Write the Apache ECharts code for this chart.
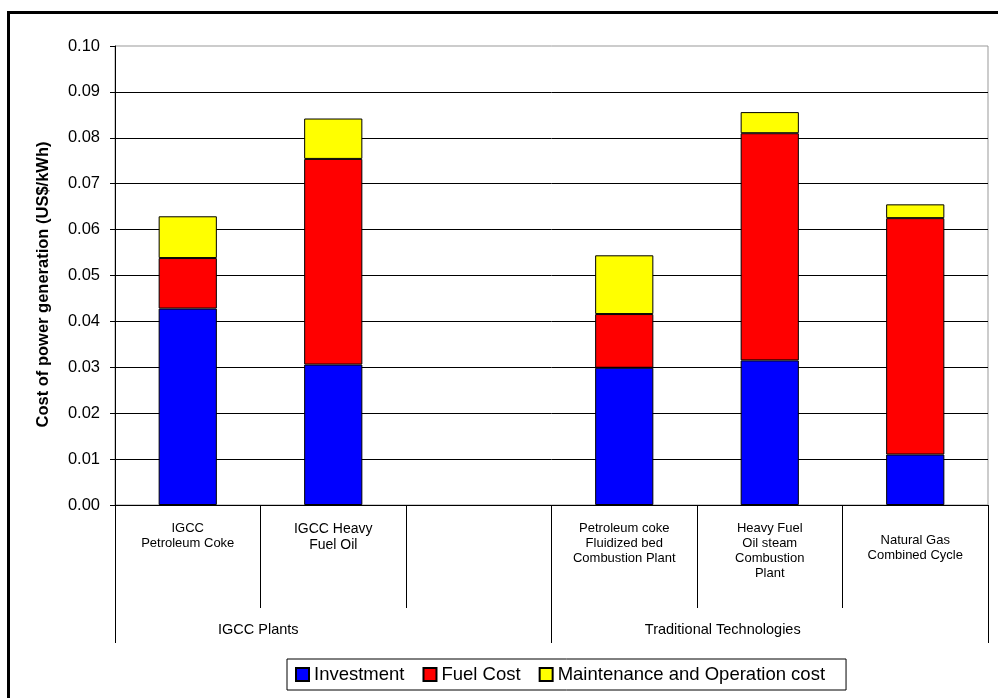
<!DOCTYPE html>
<html>
<head>
<meta charset="utf-8">
<script src="https://cdn.jsdelivr.net/npm/echarts@6/dist/echarts.min.js"></script>
<style>
  html, body { margin: 0; padding: 0; background: #fff; }
  #chart { width: 998px; height: 698px; }
</style>
</head>
<body>
<div id="chart"></div>
<script>
// categories (third slot is an empty gap in the original)
var plants = ['IGCC\nPetroleum Coke', 'IGCC Heavy\nFuel Oil', '',
  'Petroleum coke\nFluidized bed\nCombustion Plant',
  'Heavy Fuel\nOil steam\nCombustion\nPlant',
  'Natural Gas\nCombined Cycle'];
var groups = ['IGCC Plants', 'Traditional Technologies'];

// cost components, US$/kWh
var investment  = [0.0428, 0.0306, null, 0.0299, 0.0315, 0.0110];
var fuelCost    = [0.0110, 0.0448, null, 0.0117, 0.0495, 0.0515];
var maintenance = [0.0091, 0.0088, null, 0.0128, 0.0046, 0.0030];

var font = "'Liberation Sans', Arial, sans-serif";

function stackBar(name, data, color) {
  return {
    name: name,
    type: 'bar',
    stack: 'cost',
    barWidth: '40%',
    data: data,
    itemStyle: { color: color, borderColor: '#000', borderWidth: 1 }
  };
}

var option = {
  animation: false,
  textStyle: { fontFamily: font, color: '#000' },
  grid: {
    left: 115, right: 10, top: 46, bottom: 193,
    show: true, borderColor: '#999', borderWidth: 1
  },
  graphic: [{
    type: 'rect',
    shape: { x: 8.5, y: 12.5, width: 1000, height: 700 },
    style: { fill: 'none', stroke: '#000', lineWidth: 3 },
    silent: true
  }],
  legend: {
    left: 287, top: 659,
    padding: [6, 21, 6, 8],
    borderColor: '#000', borderWidth: 1,
    itemWidth: 13, itemHeight: 13, itemGap: 18,
    icon: 'rect',
    textStyle: { fontSize: 18.5, color: '#000', fontFamily: font }
  },
  xAxis: [{
    type: 'category',
    data: plants,
    axisLine: { show: true, lineStyle: { color: '#000' } },
    axisTick: { show: true, interval: 0, length: 103, lineStyle: { color: '#000' } },
    axisLabel: {
      interval: 0, margin: 16, verticalAlign: 'top',
      fontSize: 13, lineHeight: 15, color: '#000',
      formatter: function (v, i) {
        if (i === 1) return v.split('\n').map(function (s) { return '{big|' + s + '}'; }).join('\n');
        if (i === 5) return '{sp| }\n' + v;
        return v;
      },
      rich: {
        big: { fontSize: 14, lineHeight: 16, color: '#000' },
        sp: { fontSize: 10, lineHeight: 12 }
      }
    }
  }, {
    type: 'category',
    position: 'bottom',
    data: groups,
    axisLine: { show: false },
    axisTick: { show: true, interval: 0, length: 138, lineStyle: { color: '#000' } },
    axisLabel: {
      interval: 0, margin: 117, verticalAlign: 'top',
      fontSize: 14.5, color: '#000',
      formatter: function (v, i) { return i === 0 ? '{a|' + v + '}' : '{b|' + v + '}'; },
      rich: {
        a: { fontSize: 14.5, padding: [0, 150, 0, 0], color: '#000' },
        b: { fontSize: 14.5, padding: [0, 94, 0, 0], color: '#000' }
      }
    }
  }],
  yAxis: {
    type: 'value',
    min: 0, max: 0.1, interval: 0.01,
    name: 'Cost of power generation (US$/kWh)',
    nameLocation: 'middle',
    nameGap: 63,
    nameTextStyle: { fontSize: 16.5, fontWeight: 'bold', color: '#000', padding: [0, 18, 0, 0] },
    axisLine: { show: true, lineStyle: { color: '#000' } },
    axisTick: { show: true, length: 5, lineStyle: { color: '#000' } },
    axisLabel: {
      margin: 15, fontSize: 16.5, color: '#000',
      formatter: function (v) { return v.toFixed(2); }
    },
    splitLine: { show: true, showMaxLine: false, lineStyle: { color: '#000', width: 1 } }
  },
  series: [
    stackBar('Investment', investment, '#0000ff'),
    stackBar('Fuel Cost', fuelCost, '#ff0000'),
    stackBar('Maintenance and Operation cost', maintenance, '#ffff00')
  ]
};

var myChart = echarts.init(document.getElementById('chart'));
myChart.setOption(option);
</script>
</body>
</html>
